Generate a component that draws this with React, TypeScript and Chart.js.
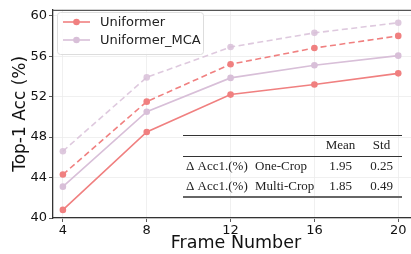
import React, { useEffect, useRef } from "react";
import { Chart, registerables } from "chart.js";

Chart.register(...registerables);

const frames = [4, 8, 12, 16, 20];
const xTicks = [4, 8, 12, 16, 20];
const yTicks = [40, 44, 48, 52, 56, 60];
const uniformerOne = [40.8, 48.5, 52.2, 53.2, 54.3];
const uniformerMulti = [44.3, 51.5, 55.2, 56.8, 58.0];
const mcaOne = [43.1, 50.5, 53.85, 55.1, 56.05];
const mcaMulti = [46.6, 53.9, 56.9, 58.3, 59.3];
const legendLabels = ["Uniformer", "Uniformer_MCA"];
const tableHeader = ["", "", "Mean", "Std"];
const tableRows = [
  ["Δ Acc1.(%)", "One-Crop", "1.95", "0.25"],
  ["Δ Acc1.(%)", "Multi-Crop", "1.85", "0.49"],
];

const RED = "#f08080";
const PURPLE = "#d8bfd8";
const PURPLE_DASH = "rgba(216,191,216,0.85)";

const pts = (ys: number[]) => frames.map((x, i) => ({ x, y: ys[i] }));

const extras = {
  id: "extras",
  afterDraw(chart: any) {
    const ctx = chart.ctx;
    const a = chart.chartArea;
    ctx.save();
    // top spine
    ctx.strokeStyle = "#555";
    ctx.lineWidth = 1.3;
    ctx.beginPath();
    ctx.moveTo(a.left, a.top + 0.5);
    ctx.lineTo(a.right, a.top + 0.5);
    ctx.stroke();

    // legend
    const lx = 57, ly = 12, lw = 146, lh = 42;
    ctx.fillStyle = "rgba(255,255,255,0.85)";
    ctx.strokeStyle = "#dddddd";
    ctx.lineWidth = 1;
    ctx.beginPath();
    (ctx as any).roundRect(lx + 0.5, ly + 0.5, lw, lh, 3);
    ctx.fill();
    ctx.stroke();
    const colors = [RED, PURPLE];
    ctx.font = "13px 'DejaVu Sans'";
    ctx.textBaseline = "middle";
    legendLabels.forEach((t, i) => {
      const yy = 22 + i * 18;
      ctx.strokeStyle = colors[i];
      ctx.lineWidth = 1.6;
      ctx.beginPath();
      ctx.moveTo(63, yy);
      ctx.lineTo(90, yy);
      ctx.stroke();
      ctx.fillStyle = colors[i];
      ctx.beginPath();
      ctx.arc(76.5, yy, 3.3, 0, Math.PI * 2);
      ctx.fill();
      ctx.fillStyle = "#222";
      ctx.textAlign = "left";
      ctx.fillText(t, 100, yy + 1);
    });

    // table
    const tx0 = 183, tx1 = 402;
    ctx.strokeStyle = "#333";
    ctx.lineWidth = 1;
    ctx.beginPath();
    ctx.moveTo(tx0, 135.5);
    ctx.lineTo(tx1, 135.5);
    ctx.moveTo(tx0, 156.5);
    ctx.lineTo(tx1, 156.5);
    ctx.stroke();
    ctx.strokeStyle = "#666";
    ctx.lineWidth = 2;
    ctx.beginPath();
    ctx.moveTo(tx0, 197);
    ctx.lineTo(tx1, 197);
    ctx.stroke();
    ctx.font = "13px 'Liberation Serif'";
    ctx.fillStyle = "#222";
    ctx.textBaseline = "middle";
    const colX = [186, 255, 340.5, 381.5];
    const colAlign: CanvasTextAlign[] = ["left", "left", "center", "center"];
    const rowY = [146, 167, 187];
    [tableHeader, ...tableRows].forEach((row, r) => {
      row.forEach((cell, c) => {
        if (!cell) return;
        ctx.textAlign = colAlign[c];
        ctx.fillText(cell, colX[c], rowY[r]);
      });
    });
    ctx.restore();
  },
};

export default function App() {
  const ref = useRef<HTMLCanvasElement>(null);
  useEffect(() => {
    document.body.style.margin = "0";
    const chart = new Chart(ref.current!, {
      type: "line",
      data: {
        datasets: [
          { label: "Uniformer_MCA multi", data: pts(mcaMulti), borderColor: PURPLE_DASH, backgroundColor: PURPLE_DASH, borderDash: [6, 3.5] },
          { label: "Uniformer multi", data: pts(uniformerMulti), borderColor: RED, backgroundColor: RED, borderDash: [6, 3.5] },
          { label: "Uniformer_MCA", data: pts(mcaOne), borderColor: PURPLE, backgroundColor: PURPLE },
          { label: "Uniformer", data: pts(uniformerOne), borderColor: RED, backgroundColor: RED },
        ].map((d) => ({ ...d, borderWidth: 1.6, pointRadius: 3.3, pointBorderWidth: 0, tension: 0 })),
      },
      options: {
        animation: false,
        responsive: false,
        layout: { padding: { top: 5, left: 0, right: 0, bottom: 0 } },
        plugins: { legend: { display: false }, tooltip: { enabled: false } },
        scales: {
          x: {
            type: "linear",
            min: 3.528,
            max: 20.99,
            afterBuildTicks: (s: any) => { s.ticks = xTicks.map((v) => ({ value: v })); },
            afterFit: (s: any) => { s.height = 36; },
            grid: { color: "#ececec", tickColor: "#333", tickLength: 4, lineWidth: 0.8 },
            border: { color: "#333", width: 1.3 },
            ticks: { color: "#111", font: { family: "DejaVu Sans", size: 13 }, padding: 1, maxRotation: 0 },
            title: { display: true, text: "Frame Number", color: "#111", font: { family: "DejaVu Sans", size: 17.5 }, padding: { top: 0, bottom: 0 } },
          },
          y: {
            min: 40,
            max: 60.58,
            afterBuildTicks: (s: any) => { s.ticks = yTicks.map((v) => ({ value: v })); },
            afterFit: (s: any) => { s.width = 53; },
            grid: { color: "#ececec", tickColor: "#333", tickLength: 4, lineWidth: 0.8 },
            border: { color: "#333", width: 1.3 },
            ticks: { color: "#111", font: { family: "DejaVu Sans", size: 13 }, padding: 2 },
            title: { display: true, text: "Top-1 Acc (%)", color: "#111", font: { family: "DejaVu Sans", size: 17 }, padding: { top: 10, bottom: 0 } },
          },
        },
      },
      plugins: [extras],
    } as any);
    return () => chart.destroy();
  }, []);
  return (
    <div style={{ width: 411, height: 254, overflow: "hidden" }}>
      <canvas ref={ref} width={423} height={254} style={{ display: "block" }} />
    </div>
  );
}
